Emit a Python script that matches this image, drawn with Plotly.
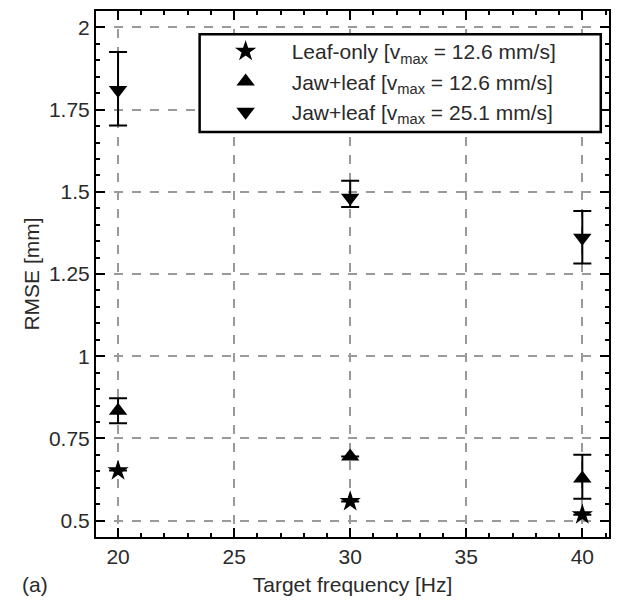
import plotly.graph_objects as go

# Target frequencies (Hz)
freq = [20, 30, 40]

# Leaf-only, v_max = 12.6 mm/s (error bars too small to draw)
leaf_rmse = [0.652, 0.558, 0.518]
leaf_err_plus = [None, None, None]
leaf_err_minus = [None, None, None]

# Jaw+leaf, v_max = 12.6 mm/s
jl126_rmse = [0.834, 0.695, 0.628]
jl126_err_plus = [0.038, None, 0.072]
jl126_err_minus = [0.038, None, 0.062]

# Jaw+leaf, v_max = 25.1 mm/s
jl251_rmse = [1.81, 1.482, 1.36]
jl251_err_plus = [0.115, 0.052, 0.082]
jl251_err_minus = [0.108, 0.028, 0.078]

y_ticks = [0.5, 0.75, 1.0, 1.25, 1.5, 1.75, 2.0]
y_tick_text = ["0.5", "0.75", "1", "1.25", "1.5", "1.75", "2"]
x_ticks = [20, 25, 30, 35, 40]

series = [
    ("Leaf-only [v<sub>max</sub> = 12.6 mm/s]", "star", leaf_rmse, leaf_err_plus, leaf_err_minus),
    ("Jaw+leaf [v<sub>max</sub> = 12.6 mm/s]", "triangle-up", jl126_rmse, jl126_err_plus, jl126_err_minus),
    ("Jaw+leaf [v<sub>max</sub> = 25.1 mm/s]", "triangle-down", jl251_rmse, jl251_err_plus, jl251_err_minus),
]

TXT = "#2a2a2a"

fig = go.Figure()
for name, sym, vals, ep, em in series:
    fig.add_trace(go.Scatter(
        x=freq, y=vals, name=name, mode="markers",
        marker=dict(symbol=sym, size=16, color="black", line=dict(width=0)),
        error_y=dict(type="data", array=ep, arrayminus=em, symmetric=False,
                     color="black", thickness=2, width=9, visible=True),
    ))

axis_common = dict(
    showline=True, linecolor="black", linewidth=2, mirror="allticks",
    ticks="inside", ticklen=9, tickwidth=1.5, tickcolor="black",
    showgrid=True, gridcolor="#9a9a9a", gridwidth=1.5, griddash="dash",
    zeroline=False,
    tickfont=dict(size=21, color=TXT),
)

fig.update_xaxes(
    range=[19.05, 41.15], tickvals=x_ticks,
    minor=dict(dtick=1, ticks="inside", ticklen=4, tickwidth=1.5, tickcolor="black", showgrid=False),
    title=dict(text="Target frequency [Hz]", font=dict(size=21, color=TXT), standoff=10),
    **axis_common,
)
fig.update_yaxes(
    range=[0.45, 2.05], tickvals=y_ticks, ticktext=y_tick_text,
    minor=dict(tickvals=[round(0.45 + 0.05 * i, 2) for i in range(33)], ticks="inside",
               ticklen=4, tickwidth=1.5, tickcolor="black", showgrid=False),
    title=dict(text="RMSE [mm]", font=dict(size=21, color=TXT), standoff=4),
    **axis_common,
)

fig.add_annotation(text="(a)", xref="paper", yref="paper", x=-0.148, y=-0.091,
                   xanchor="left", yanchor="middle", showarrow=False,
                   font=dict(size=21, color=TXT))

# Legend frame (white box behind the legend entries)
fig.add_shape(type="rect", xref="paper", yref="paper",
              x0=0.202, x1=0.984, y0=0.770, y1=0.956,
              line=dict(color="black", width=2.5), fillcolor="white", layer="above")

fig.update_layout(
    width=620, height=606,
    margin=dict(l=96, r=9, t=10, b=69),
    paper_bgcolor="white", plot_bgcolor="white",
    font=dict(family="Liberation Sans, Arial, sans-serif", color=TXT),
    showlegend=True,
    legend=dict(
        x=0.202, y=0.962, xanchor="left", yanchor="top",
        bgcolor="rgba(0,0,0,0)", borderwidth=0,
        font=dict(size=21, color=TXT),
        itemwidth=82, tracegroupgap=0,
    ),
)

fig.write_html("out.html")
